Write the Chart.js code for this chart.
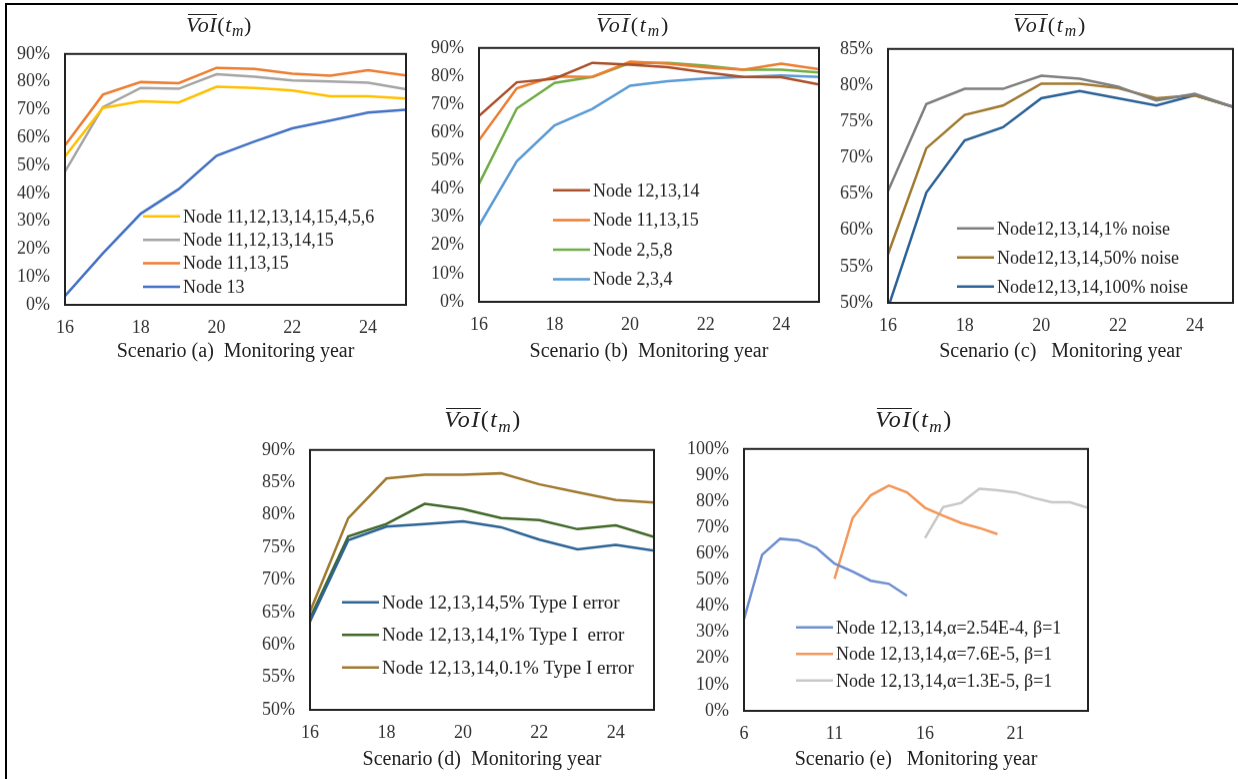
<!DOCTYPE html>
<html>
<head>
<meta charset="utf-8">
<script src="https://cdn.jsdelivr.net/npm/chart.js@4/dist/chart.umd.min.js"></script>
<style>
html, body { margin: 0; padding: 0; background: #fff; overflow: hidden; }
#page { position: relative; width: 1238px; height: 779px; overflow: hidden; }
#frame { position: absolute; left: 5px; top: 3px; width: 1300px; height: 900px; border-top: 2px solid #000; border-left: 2px solid #000; }
canvas { position: absolute; }
.ttl { position: absolute; width: 200px; text-align: center; font-family: "Liberation Serif", serif; color: #222; white-space: nowrap; }
.ov { position: relative; }
.ov::before { content: ""; position: absolute; left: 2px; right: 0; top: 0.1em; border-top: 1.5px solid #222; }
.ttl sub { font-size: 0.72em; vertical-align: -0.28em; line-height: 0; }
</style>
</head>
<body>
<div id="page">
  <div id="frame"></div>
</div>
<script>
// ---- data ----
const years = [16, 17, 18, 19, 20, 21, 22, 23, 24, 25];
const yearTicks = [16, 18, 20, 22, 24];

// scenario (a)
const aNodes8  = [53.2, 70.6, 73.0, 72.6, 78.2, 77.8, 76.9, 74.8, 74.8, 74.0];
const aNodes5  = [47.8, 70.9, 77.8, 77.5, 82.7, 81.8, 80.5, 80.1, 79.7, 77.3];
const aNodes3  = [57.2, 75.4, 79.9, 79.5, 85.0, 84.6, 82.9, 82.2, 84.2, 82.3];
const aNode13  = [3.2, 18.5, 32.7, 41.5, 53.5, 58.6, 63.3, 66.1, 69.0, 70.0];

// scenario (b)
const b121314 = [65.9, 77.8, 79.1, 84.7, 84.1, 83.2, 81.3, 79.7, 79.6, 77.0];
const b111315 = [57.3, 75.7, 79.9, 79.7, 85.1, 84.4, 83.1, 82.3, 84.4, 82.5];
const b258    = [41.8, 68.5, 77.6, 79.7, 84.7, 84.7, 83.7, 82.3, 82.3, 81.3];
const b234    = [27.0, 49.8, 62.5, 68.4, 76.6, 78.2, 79.2, 79.7, 80.2, 79.7];

// scenario (c)
const cNoise1   = [65.4, 77.4, 79.5, 79.5, 81.3, 80.9, 79.8, 77.9, 78.8, 77.0];
const cNoise50  = [56.7, 71.3, 75.9, 77.2, 80.2, 80.2, 79.6, 78.2, 78.6, 77.0];
const cNoise100 = [49.3, 65.2, 72.4, 74.2, 78.2, 79.2, 78.2, 77.2, 78.6, 77.0];

// scenario (d)
const dErr5  = [63.6, 76.1, 78.2, 78.6, 79.0, 78.1, 76.2, 74.7, 75.4, 74.5];
const dErr1  = [64.1, 76.7, 78.6, 81.7, 80.9, 79.5, 79.2, 77.8, 78.4, 76.6];
const dErr01 = [65.1, 79.5, 85.6, 86.2, 86.2, 86.4, 84.7, 83.5, 82.3, 81.9];

// scenario (e)
const eTicks = [6, 11, 16, 21];
const eYearsA = [6, 7, 8, 9, 10, 11, 12, 13, 14, 15];
const eYearsB = [11, 12, 13, 14, 15, 16, 17, 18, 19, 20];
const eYearsC = [16, 17, 18, 19, 20, 21, 22, 23, 24, 25];
const eAlphaA = [35.0, 59.6, 65.7, 65.1, 62.2, 56.2, 53.2, 49.7, 48.5, 43.9];
const eAlphaB = [50.4, 73.6, 82.3, 86.0, 83.4, 77.5, 74.5, 71.7, 69.8, 67.5];
const eAlphaC = [66.0, 77.8, 79.4, 84.8, 84.2, 83.4, 81.3, 79.6, 79.6, 77.5];

const pts = (xs, ys) => xs.map((x, i) => ({ x: x, y: ys[i] }));

// ---- box + in-plot legend ----
const boxLegend = {
  id: 'boxLegend',
  afterDraw(chart, args, opts) {
    const { ctx, chartArea: a } = chart;
    ctx.save();
    chart.data.datasets.forEach((ds, i) => {
      const x = a.left + opts.dx;
      const y = a.top + opts.dy + i * opts.gap;
      ctx.strokeStyle = ds.borderColor;
      ctx.lineWidth = 2.5;
      ctx.beginPath();
      ctx.moveTo(x, y);
      ctx.lineTo(x + 37, y);
      ctx.stroke();
      ctx.fillStyle = '#222';
      ctx.font = opts.size + 'px "Liberation Serif"';
      ctx.textBaseline = 'middle';
      ctx.fillText(ds.label, x + 40, y + 1);
    });
    ctx.strokeStyle = '#222';
    ctx.lineWidth = 2;
    ctx.strokeRect(a.left, a.top, a.right - a.left, a.bottom - a.top);
    ctx.restore();
  }
};

const page = document.getElementById('page');
const PAD_L = 64, PAD_R = 14;

function build(c, p) {
  return new Chart(c, {
    type: 'line',
    data: {
      datasets: p.series.map(s => ({
        label: s.label,
        data: s.data,
        borderColor: s.color,
        backgroundColor: s.color,
        borderWidth: 2.5,
        pointRadius: 0,
        tension: 0,
        fill: false
      }))
    },
    options: {
      responsive: false,
      maintainAspectRatio: false,
      animation: false,
      layout: { padding: { top: 0, right: PAD_R, left: 0, bottom: 0 } },
      plugins: {
        legend: { display: false },
        tooltip: { enabled: false },
        boxLegend: p.legend
      },
      scales: {
        x: {
          type: 'linear',
          min: p.xmin, max: p.xmax,
          afterBuildTicks: sc => { sc.ticks = p.xticks.map(v => ({ value: v })); },
          afterFit: sc => { sc.height = p.xh; },
          grid: { display: false, drawTicks: false },
          border: { display: false },
          ticks: { padding: 12, color: '#333', font: { family: 'Liberation Serif', size: 18 } },
          title: {
            display: true, text: p.xtitle, color: '#222',
            padding: { top: 0, bottom: 1 },
            font: { family: 'Liberation Serif', size: 20 }
          }
        },
        y: {
          min: p.ymin, max: p.ymax,
          afterFit: sc => { sc.width = PAD_L; },
          grid: { display: false, drawTicks: false },
          border: { display: false },
          ticks: {
            stepSize: p.ystep, padding: 15, color: '#333',
            font: { family: 'Liberation Serif', size: 18 },
            callback: v => v + '%'
          }
        }
      }
    },
    plugins: [boxLegend]
  });
}

function panel(p) {
  const c = document.createElement('canvas');
  page.appendChild(c);
  const w = PAD_L + p.w + PAD_R;
  let padT = 11, chart = null;
  for (let k = 0; k < 3; k++) {
    const h = padT + p.h + p.xh;
    c.width = w; c.height = h;
    c.style.width = w + 'px'; c.style.height = h + 'px';
    chart = build(c, p);
    const got = chart.chartArea.top;
    if (Math.abs(got - padT) < 0.5) break;
    padT = got;
    chart.destroy();
  }
  c.style.left = (p.left - chart.chartArea.left) + 'px';
  c.style.top = (p.top - chart.chartArea.top) + 'px';

  const t = document.createElement('div');
  t.className = 'ttl';
  t.style.left = (p.tx - 100) + 'px';
  t.style.top = (p.tb - 0.8375 * p.ts) + 'px';
  t.style.fontSize = p.ts + 'px';
  t.style.lineHeight = p.ts + 'px';
  t.style.letterSpacing = p.tls + 'px';
  t.innerHTML = '<i class="ov">VoI</i>(<i>t</i><sub><i>m</i></sub>)';
  page.appendChild(t);
}

panel({
  left: 65, top: 54, w: 341, h: 251, xh: 60,
  tx: 219, tb: 32, ts: 22, tls: 0.6,
  xmin: 16, xmax: 25, xticks: yearTicks, ymin: 0, ymax: 90, ystep: 10,
  xtitle: 'Scenario (a)  Monitoring year',
  legend: { dx: 78, dy: 162, gap: 23.4, size: 18 },
  series: [
    { label: 'Node 11,12,13,14,15,4,5,6', data: pts(years, aNodes8), color: '#FFC000' },
    { label: 'Node 11,12,13,14,15', data: pts(years, aNodes5), color: '#A5A5A5' },
    { label: 'Node 11,13,15', data: pts(years, aNodes3), color: '#ED7D31' },
    { label: 'Node 13', data: pts(years, aNode13), color: '#4472C4' }
  ]
});

panel({
  left: 479, top: 48, w: 340, h: 254, xh: 63,
  tx: 633, tb: 32, ts: 22, tls: 1.8,
  xmin: 16, xmax: 25, xticks: yearTicks, ymin: 0, ymax: 90, ystep: 10,
  xtitle: 'Scenario (b)  Monitoring year',
  legend: { dx: 74, dy: 142, gap: 29.6, size: 18 },
  series: [
    { label: 'Node 12,13,14', data: pts(years, b121314), color: '#A9502A' },
    { label: 'Node 11,13,15', data: pts(years, b111315), color: '#ED7D31' },
    { label: 'Node 2,5,8', data: pts(years, b258), color: '#70AD47' },
    { label: 'Node 2,3,4', data: pts(years, b234), color: '#5B9BD5' }
  ]
});

panel({
  left: 888, top: 49, w: 345, h: 254, xh: 62,
  tx: 1050, tb: 32, ts: 22, tls: 1.8,
  xmin: 16, xmax: 25, xticks: yearTicks, ymin: 50, ymax: 85, ystep: 5,
  xtitle: 'Scenario (c)   Monitoring year',
  legend: { dx: 69, dy: 179, gap: 29, size: 18 },
  series: [
    { label: 'Node12,13,14,1% noise', data: pts(years, cNoise1), color: '#7F7F7F' },
    { label: 'Node12,13,14,50% noise', data: pts(years, cNoise50), color: '#A07A30' },
    { label: 'Node12,13,14,100% noise', data: pts(years, cNoise100), color: '#2B6297' }
  ]
});

panel({
  left: 310, top: 450, w: 344, h: 260, xh: 63,
  tx: 483, tb: 427, ts: 24, tls: 1.5,
  xmin: 16, xmax: 25, xticks: yearTicks, ymin: 50, ymax: 90, ystep: 5,
  xtitle: 'Scenario (d)  Monitoring year',
  legend: { dx: 32, dy: 152, gap: 32.5, size: 19 },
  series: [
    { label: 'Node 12,13,14,5% Type I error', data: pts(years, dErr5), color: '#2E6496' },
    { label: 'Node 12,13,14,1% Type I  error', data: pts(years, dErr1), color: '#43682B' },
    { label: 'Node 12,13,14,0.1% Type I error', data: pts(years, dErr01), color: '#A07A30' }
  ]
});

panel({
  left: 744, top: 449, w: 344, h: 262, xh: 62,
  tx: 914, tb: 427, ts: 24, tls: 1.5,
  xmin: 6, xmax: 25, xticks: eTicks, ymin: 0, ymax: 100, ystep: 10,
  xtitle: 'Scenario (e)   Monitoring year',
  legend: { dx: 52, dy: 178, gap: 26.5, size: 18 },
  series: [
    { label: 'Node 12,13,14,\u03b1=2.54E-4, \u03b2=1', data: pts(eYearsA, eAlphaA), color: '#6F8FD0' },
    { label: 'Node 12,13,14,\u03b1=7.6E-5, \u03b2=1', data: pts(eYearsB, eAlphaB), color: '#F4975A' },
    { label: 'Node 12,13,14,\u03b1=1.3E-5, \u03b2=1', data: pts(eYearsC, eAlphaC), color: '#C8C8C8' }
  ]
});
</script>
</body>
</html>
